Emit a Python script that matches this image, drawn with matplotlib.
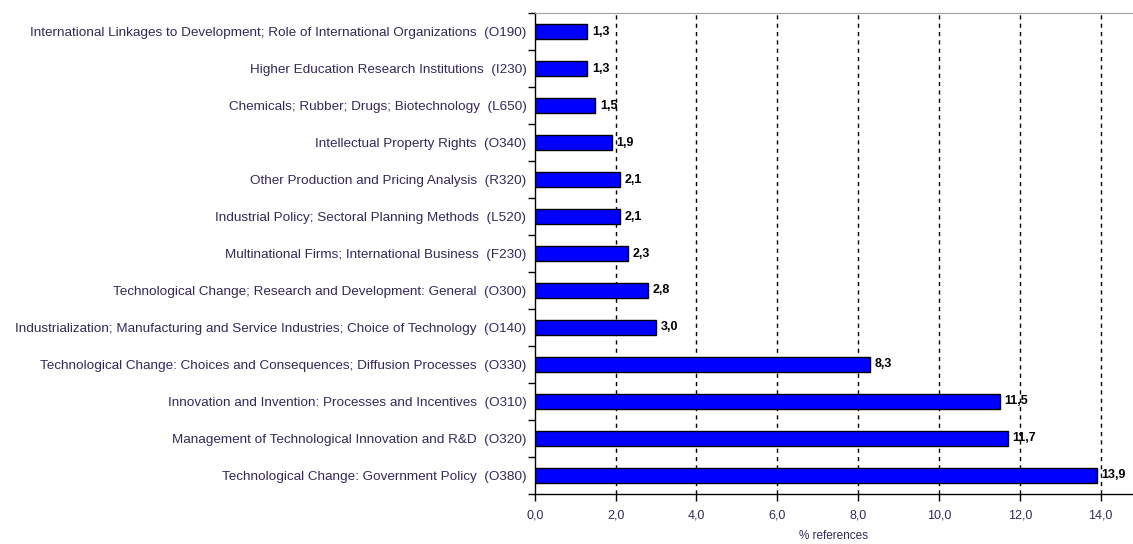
import numpy as np
import matplotlib.pyplot as plt

plt.rcParams['font.family'] = ['Liberation Sans', 'DejaVu Sans']

categories = [
    "International Linkages to Development; Role of International Organizations  (O190)",
    "Higher Education Research Institutions  (I230)",
    "Chemicals; Rubber; Drugs; Biotechnology  (L650)",
    "Intellectual Property Rights  (O340)",
    "Other Production and Pricing Analysis  (R320)",
    "Industrial Policy; Sectoral Planning Methods  (L520)",
    "Multinational Firms; International Business  (F230)",
    "Technological Change; Research and Development: General  (O300)",
    "Industrialization; Manufacturing and Service Industries; Choice of Technology  (O140)",
    "Technological Change: Choices and Consequences; Diffusion Processes  (O330)",
    "Innovation and Invention: Processes and Incentives  (O310)",
    "Management of Technological Innovation and R&D  (O320)",
    "Technological Change: Government Policy  (O380)",
]
values = [1.3, 1.3, 1.5, 1.9, 2.1, 2.1, 2.3, 2.8, 3.0, 8.3, 11.5, 11.7, 13.9]
xticks = [0, 2, 4, 6, 8, 10, 12, 14]

txt_col = "#35285a"

fig = plt.figure(figsize=(11.33, 5.44), dpi=100)
ax = fig.add_axes([0.472, 0.092, 0.528, 0.884])

y = np.arange(len(categories))
ax.barh(y, values, height=0.42, color="#0000ff", edgecolor="black", linewidth=1, zorder=3)

for yi, v in zip(y, values):
    ax.text(v + 0.12, yi, f"{v:.1f}".replace(".", ","), va="center", ha="left",
            fontsize=9, fontweight="bold", color="black", zorder=1)

ax.set_xlim(0, 14.8)
ax.set_ylim(len(categories) - 0.5, -0.5)

ax.set_xticks(xticks)
ax.set_xticklabels([f"{t:.1f}".replace(".", ",") for t in xticks], fontsize=9, color=txt_col)
ax.set_xlabel("% references", fontsize=8.5, color=txt_col, labelpad=6)

ax.set_yticks(y)
ax.set_yticklabels(categories, fontsize=9.7, color=txt_col)
ax.tick_params(axis="y", which="major", length=0, pad=6)
ax.set_yticks(np.arange(-0.5, len(categories)), minor=True)
ax.tick_params(axis="y", which="minor", length=5, direction="out", width=1)
ax.tick_params(axis="x", length=5, direction="out", width=1, pad=6)

for t in xticks[1:]:
    ax.axvline(t, color="black", linestyle=(0, (3, 3)), linewidth=1, zorder=2)

ax.spines["right"].set_visible(False)
ax.spines["top"].set_color("#a0a0a0")
ax.spines["left"].set_linewidth(1)
ax.spines["bottom"].set_linewidth(1)

fig.savefig("out.png", dpi=100)
